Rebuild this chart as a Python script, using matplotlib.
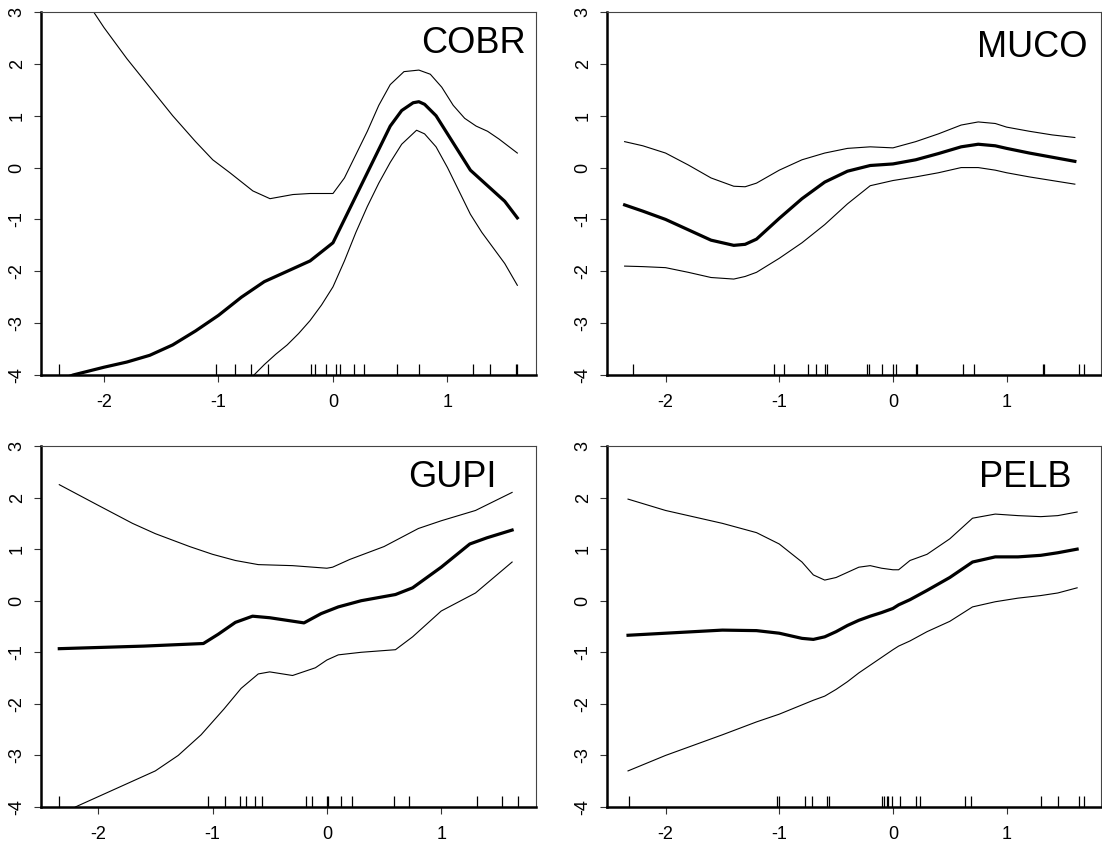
import numpy as np
import matplotlib.pyplot as plt

plt.rcParams['font.family'] = ['Liberation Sans', 'DejaVu Sans']

# ---- COBR ----
cobr_x = [-2.45, -2.27, -2.0, -1.8, -1.6, -1.4, -1.2, -1.0, -0.8, -0.6, -0.4, -0.2, 0.0, 0.1, 0.2, 0.3, 0.4, 0.5,
          0.6, 0.7, 0.75, 0.8, 0.9, 1.0, 1.1, 1.2, 1.3, 1.4, 1.5, 1.61]
cobr_fit = [-4.15, -4.0, -3.85, -3.75, -3.62, -3.42, -3.15, -2.85, -2.5, -2.2, -2.0, -1.8, -1.45, -1.0, -0.55,
            -0.1, 0.35, 0.8, 1.1, 1.25, 1.27, 1.22, 1.0, 0.65, 0.3, -0.05, -0.25, -0.45, -0.65, -0.97]
cobr_up_x = [-2.45, -2.3, -2.15, -2.0, -1.8, -1.6, -1.4, -1.2, -1.05, -0.9, -0.7, -0.55, -0.35, -0.2, -0.05, 0.0,
             0.1, 0.2, 0.3, 0.4, 0.5, 0.62, 0.75, 0.85, 0.95, 1.05, 1.15, 1.25, 1.35, 1.45, 1.61]
cobr_up = [4.3, 3.8, 3.2, 2.7, 2.1, 1.55, 1.0, 0.5, 0.15, -0.1, -0.45, -0.6, -0.52, -0.5, -0.5, -0.5, -0.2,
           0.25, 0.7, 1.2, 1.6, 1.85, 1.88, 1.8, 1.55, 1.2, 0.95, 0.8, 0.7, 0.55, 0.28]
cobr_lo_x = [-0.9, -0.69, -0.6, -0.5, -0.4, -0.3, -0.2, -0.1, 0.0, 0.1, 0.2, 0.3, 0.4, 0.5, 0.6, 0.73, 0.8, 0.9,
             1.0, 1.1, 1.2, 1.3, 1.4, 1.5, 1.61]
cobr_lo = [-4.6, -4.0, -3.8, -3.6, -3.42, -3.2, -2.95, -2.65, -2.3, -1.8, -1.25, -0.75, -0.3, 0.1, 0.45, 0.72,
           0.65, 0.4, 0.0, -0.45, -0.9, -1.25, -1.55, -1.85, -2.27]
cobr_rug = [-2.39, -1.02, -0.86, -0.72, -0.57, -0.19, -0.16, -0.06, 0.03, 0.06, 0.18, 0.27, 0.56, 0.75, 1.22,
            1.37, 1.60, 1.61]

# ---- MUCO ----
muco_x = [-2.36, -2.2, -2.0, -1.8, -1.6, -1.4, -1.3, -1.2, -1.0, -0.8, -0.6, -0.4, -0.2, 0.0, 0.2, 0.4, 0.6,
          0.75, 0.9, 1.0, 1.2, 1.4, 1.6]
muco_fit = [-0.72, -0.84, -1.0, -1.2, -1.4, -1.5, -1.48, -1.38, -0.98, -0.6, -0.28, -0.07, 0.04, 0.07, 0.15, 0.27,
            0.4, 0.45, 0.42, 0.37, 0.28, 0.2, 0.12]
muco_up = [0.5, 0.42, 0.28, 0.05, -0.2, -0.36, -0.37, -0.3, -0.05, 0.15, 0.28, 0.37, 0.4, 0.38, 0.5, 0.65, 0.82,
           0.88, 0.85, 0.78, 0.7, 0.63, 0.58]
muco_lo = [-1.9, -1.91, -1.93, -2.02, -2.12, -2.15, -2.1, -2.02, -1.75, -1.45, -1.1, -0.7, -0.35, -0.25, -0.18,
           -0.1, 0.0, 0.0, -0.05, -0.1, -0.18, -0.25, -0.32]
muco_rug = [-2.29, -1.05, -0.96, -0.75, -0.68, -0.60, -0.58, -0.23, -0.21, -0.10, 0.00, 0.03, 0.20, 0.21, 0.62,
            0.71, 1.32, 1.33, 1.64, 1.68]

# ---- GUPI ----
gupi_fit_x = [-2.34, -1.6, -1.08, -0.95, -0.8, -0.65, -0.5, -0.35, -0.2, -0.05, 0.1, 0.3, 0.6, 0.75, 1.0, 1.25,
              1.4, 1.62]
gupi_fit = [-0.93, -0.88, -0.83, -0.65, -0.42, -0.3, -0.33, -0.38, -0.43, -0.25, -0.12, 0.0, 0.12, 0.25, 0.65,
            1.1, 1.22, 1.37]
gupi_up_x = [-2.34, -2.0, -1.7, -1.5, -1.2, -1.0, -0.8, -0.6, -0.3, 0.0, 0.05, 0.2, 0.5, 0.8, 1.0, 1.3, 1.62]
gupi_up = [2.25, 1.85, 1.5, 1.3, 1.05, 0.9, 0.78, 0.7, 0.68, 0.63, 0.65, 0.8, 1.05, 1.4, 1.55, 1.75, 2.1]
gupi_lo_x = [-2.34, -2.2, -2.0, -1.7, -1.5, -1.3, -1.1, -0.9, -0.75, -0.6, -0.5, -0.3, -0.1, 0.0, 0.1, 0.3, 0.6,
             0.75, 1.0, 1.3, 1.62]
gupi_lo = [-4.3, -4.0, -3.8, -3.5, -3.3, -3.0, -2.6, -2.1, -1.7, -1.42, -1.38, -1.45, -1.3, -1.15, -1.05, -1.0,
           -0.95, -0.7, -0.2, 0.15, 0.75]
gupi_rug = [-2.34, -1.04, -0.89, -0.76, -0.71, -0.63, -0.57, -0.18, -0.13, 0.00, 0.01, 0.12, 0.22, 0.59, 0.72,
            1.31, 1.53, 1.67]

# ---- PELB ----
pelb_x = [-2.33, -2.0, -1.5, -1.2, -1.0, -0.8, -0.7, -0.6, -0.5, -0.4, -0.3, -0.2, -0.1, 0.0, 0.05, 0.15, 0.3,
          0.5, 0.7, 0.9, 1.1, 1.3, 1.45, 1.62]
pelb_fit = [-0.67, -0.63, -0.57, -0.58, -0.63, -0.73, -0.75, -0.7, -0.6, -0.48, -0.38, -0.3, -0.23, -0.15, -0.08,
            0.02, 0.2, 0.45, 0.75, 0.85, 0.85, 0.88, 0.93, 1.0]
pelb_up = [1.97, 1.75, 1.5, 1.32, 1.1, 0.75, 0.5, 0.4, 0.45, 0.55, 0.65, 0.68, 0.63, 0.6, 0.6, 0.78, 0.9, 1.2,
           1.6, 1.68, 1.65, 1.63, 1.65, 1.72]
pelb_lo = [-3.3, -3.0, -2.6, -2.35, -2.2, -2.02, -1.93, -1.85, -1.72, -1.57, -1.4, -1.25, -1.1, -0.95, -0.88,
           -0.78, -0.6, -0.4, -0.12, -0.02, 0.05, 0.1, 0.15, 0.25]
pelb_rug = [-2.32, -1.02, -1.00, -0.77, -0.71, -0.58, -0.56, -0.10, -0.08, -0.05, -0.04, -0.01, 0.06, 0.20, 0.24,
            0.63, 0.69, 1.30, 1.45, 1.64, 1.68]

W, H = 1102, 852
fig = plt.figure(figsize=(W / 100, H / 100), dpi=100)


def panel(rect_px, xlim, name, label_pos, fit, up, lo, rug):
    l, r, t, b = rect_px
    ax = fig.add_axes([l / W, 1 - b / H, (r - l) / W, (b - t) / H])
    ax.plot(*fit, color='black', lw=2.3, solid_joinstyle='round')
    ax.plot(*up, color='black', lw=0.8, solid_joinstyle='round')
    ax.plot(*lo, color='black', lw=0.8, solid_joinstyle='round')
    ax.vlines(rug, 0, 0.03, transform=ax.get_xaxis_transform(), color='black', lw=0.9)
    ax.set_xlim(*xlim)
    ax.set_ylim(-4, 3)
    ax.set_xticks([-2, -1, 0, 1])
    ax.set_yticks(range(-4, 4))
    ax.set_xticklabels(['-2', '-1', '0', '1'])
    ax.set_yticklabels([str(v) for v in range(-4, 4)], rotation=90, va='center')
    ax.tick_params(direction='out', length=5, width=0.8, labelsize=13, color='#333333')
    ax.tick_params(axis='x', pad=9)
    ax.tick_params(axis='y', pad=6)
    for s in ['left', 'bottom']:
        ax.spines[s].set_linewidth(1.8)
    for s in ['top', 'right']:
        ax.spines[s].set_linewidth(0.8)
        ax.spines[s].set_color('#444444')
    ax.text(label_pos[0], label_pos[1], name, transform=ax.transAxes, ha='right', va='baseline', fontsize=26)
    return ax


panel((41, 536, 12, 375), (-2.55, 1.773), 'COBR', (0.98, 0.887),
      (cobr_x, cobr_fit), (cobr_up_x, cobr_up), (cobr_lo_x, cobr_lo), cobr_rug)
panel((607, 1101, 12, 375), (-2.515, 1.83), 'MUCO', (0.972, 0.876),
      (muco_x, muco_fit), (muco_x, muco_up), (muco_x, muco_lo), muco_rug)
panel((41, 536, 446, 807), (-2.50, 1.829), 'GUPI', (0.921, 0.886),
      (gupi_fit_x, gupi_fit), (gupi_up_x, gupi_up), (gupi_lo_x, gupi_lo), gupi_rug)
panel((607, 1101, 446, 807), (-2.515, 1.83), 'PELB', (0.941, 0.886),
      (pelb_x, pelb_fit), (pelb_x, pelb_up), (pelb_x, pelb_lo), pelb_rug)

fig.savefig('out.png', dpi=100)
